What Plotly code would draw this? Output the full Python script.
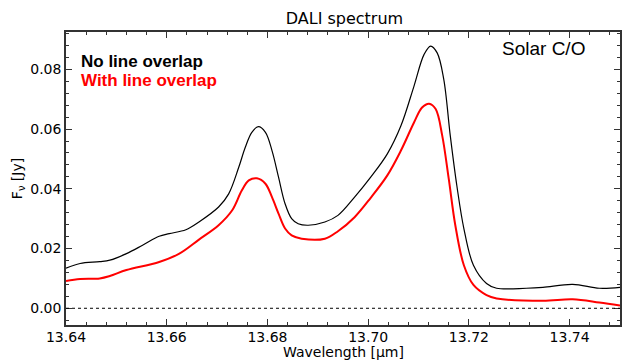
import plotly.graph_objects as go

# Wavelength [um] and flux [Jy]
wl_black = [13.6400, 13.6428, 13.6467, 13.6487, 13.6520, 13.6552, 13.6585, 13.6605, 13.6638,
            13.6664, 13.6703, 13.6723, 13.6743, 13.6756, 13.6769, 13.6782, 13.6796, 13.6809,
            13.6822, 13.6835, 13.6848, 13.6861, 13.6881, 13.6914, 13.6940, 13.6973, 13.7005,
            13.7038, 13.7065, 13.7091, 13.7111, 13.7124, 13.7137, 13.7150, 13.7163, 13.7176,
            13.7190, 13.7209, 13.7235, 13.7255, 13.7314, 13.7347, 13.7406, 13.7459, 13.7500]
f_black = [0.0134, 0.0150, 0.0156, 0.0161, 0.0183, 0.0211, 0.0241, 0.0250, 0.0263,
           0.0289, 0.0339, 0.0383, 0.0472, 0.0539, 0.0589, 0.0608, 0.0589, 0.0528,
           0.0439, 0.0350, 0.0300, 0.0283, 0.0278, 0.0289, 0.0311, 0.0372, 0.0439,
           0.0517, 0.0611, 0.0744, 0.0850, 0.0878, 0.0855, 0.0767, 0.0578, 0.0411,
           0.0267, 0.0144, 0.0083, 0.0067, 0.0067, 0.0070, 0.0080, 0.0067, 0.0070]

wl_red = [13.6400, 13.6428, 13.6467, 13.6487, 13.6520, 13.6585, 13.6625, 13.6664, 13.6703,
          13.6730, 13.6749, 13.6763, 13.6779, 13.6796, 13.6809, 13.6822, 13.6835, 13.6848,
          13.6868, 13.6914, 13.6940, 13.6973, 13.7005, 13.7038, 13.7065, 13.7091, 13.7107,
          13.7121, 13.7134, 13.7147, 13.7160, 13.7173, 13.7190, 13.7209, 13.7235, 13.7255,
          13.7347, 13.7406, 13.7459, 13.7500]
f_red = [0.0091, 0.0098, 0.0100, 0.0108, 0.0128, 0.0155, 0.0183, 0.0230, 0.0278,
         0.0328, 0.0394, 0.0428, 0.0435, 0.0417, 0.0372, 0.0317, 0.0267, 0.0244,
         0.0233, 0.0233, 0.0258, 0.0305, 0.0370, 0.0445, 0.0528, 0.0622, 0.0672,
         0.0685, 0.0667, 0.0578, 0.0433, 0.0278, 0.0144, 0.0078, 0.0044, 0.0033,
         0.0025, 0.0030, 0.0019, 0.0009]

x_ticks = [13.64, 13.66, 13.68, 13.70, 13.72, 13.74]
y_ticks = [0.00, 0.02, 0.04, 0.06, 0.08]

fig = go.Figure()
fig.add_hline(y=0, line=dict(color="black", width=1, dash="dot"))
fig.add_trace(go.Scatter(x=wl_black, y=f_black, mode="lines",
                         line=dict(color="black", width=1.2, shape="spline", smoothing=1.0), showlegend=False))
fig.add_trace(go.Scatter(x=wl_red, y=f_red, mode="lines",
                         line=dict(color="#ff0000", width=2, shape="spline", smoothing=1.0), showlegend=False))

axis_common = dict(showline=True, linecolor="#333333", linewidth=1.5, mirror="ticks",
                   ticks="inside", ticklen=6, tickwidth=1.2, tickcolor="#333333",
                   showgrid=False, zeroline=False,
                   tickfont=dict(family="DejaVu Sans", size=14, color="black"))

fig.update_layout(
    width=624, height=362,
    margin=dict(l=66, r=2, t=32, b=37),
    plot_bgcolor="white", paper_bgcolor="white",
    title=dict(text="DALI spectrum", x=0.552, xanchor="center", y=0.948, yanchor="middle",
               font=dict(family="DejaVu Sans", size=16, color="black")),
    xaxis=dict(range=[13.64, 13.75], tickvals=x_ticks, ticktext=[f"{v:.2f}" for v in x_ticks],
               minor=dict(ticks="inside", ticklen=3, dtick=0.004, tickcolor="#333333"),
               ticklabelstandoff=-2,
               **axis_common),
    yaxis=dict(range=[-0.0056, 0.0925], tickvals=y_ticks, ticktext=[f"{v:.2f}" for v in y_ticks],
               minor=dict(ticks="inside", ticklen=3, dtick=0.004, tickcolor="#333333"),
               title=dict(text="F<sub>ν</sub> [Jy]", font=dict(family="DejaVu Sans", size=14, color="black"), standoff=4),
               **axis_common),
)

fig.add_annotation(x=0.5, y=-(362 - 325) / 293, xref="paper", yref="paper",
                   xanchor="center", yanchor="bottom", text="Wavelength [μm]", showarrow=False,
                   font=dict(family="DejaVu Sans", size=14, color="black"))
fig.add_annotation(x=(79 - 66) / 556, y=(325 - 61) / 293, xref="paper", yref="paper",
                   xanchor="left", yanchor="middle", text="<b>No line overlap</b>", showarrow=False,
                   font=dict(family="Liberation Sans", size=17, color="black"))
fig.add_annotation(x=(79 - 66) / 556, y=(325 - 80) / 293, xref="paper", yref="paper",
                   xanchor="left", yanchor="middle", text="<b>With line overlap</b>", showarrow=False,
                   font=dict(family="Liberation Sans", size=17, color="#ff0000"))
fig.add_annotation(x=(502 - 66) / 556, y=(325 - 49) / 293, xref="paper", yref="paper",
                   xanchor="left", yanchor="middle", text="Solar C/O", showarrow=False,
                   font=dict(family="Liberation Sans", size=19, color="black"))

fig.write_html("out.html")
